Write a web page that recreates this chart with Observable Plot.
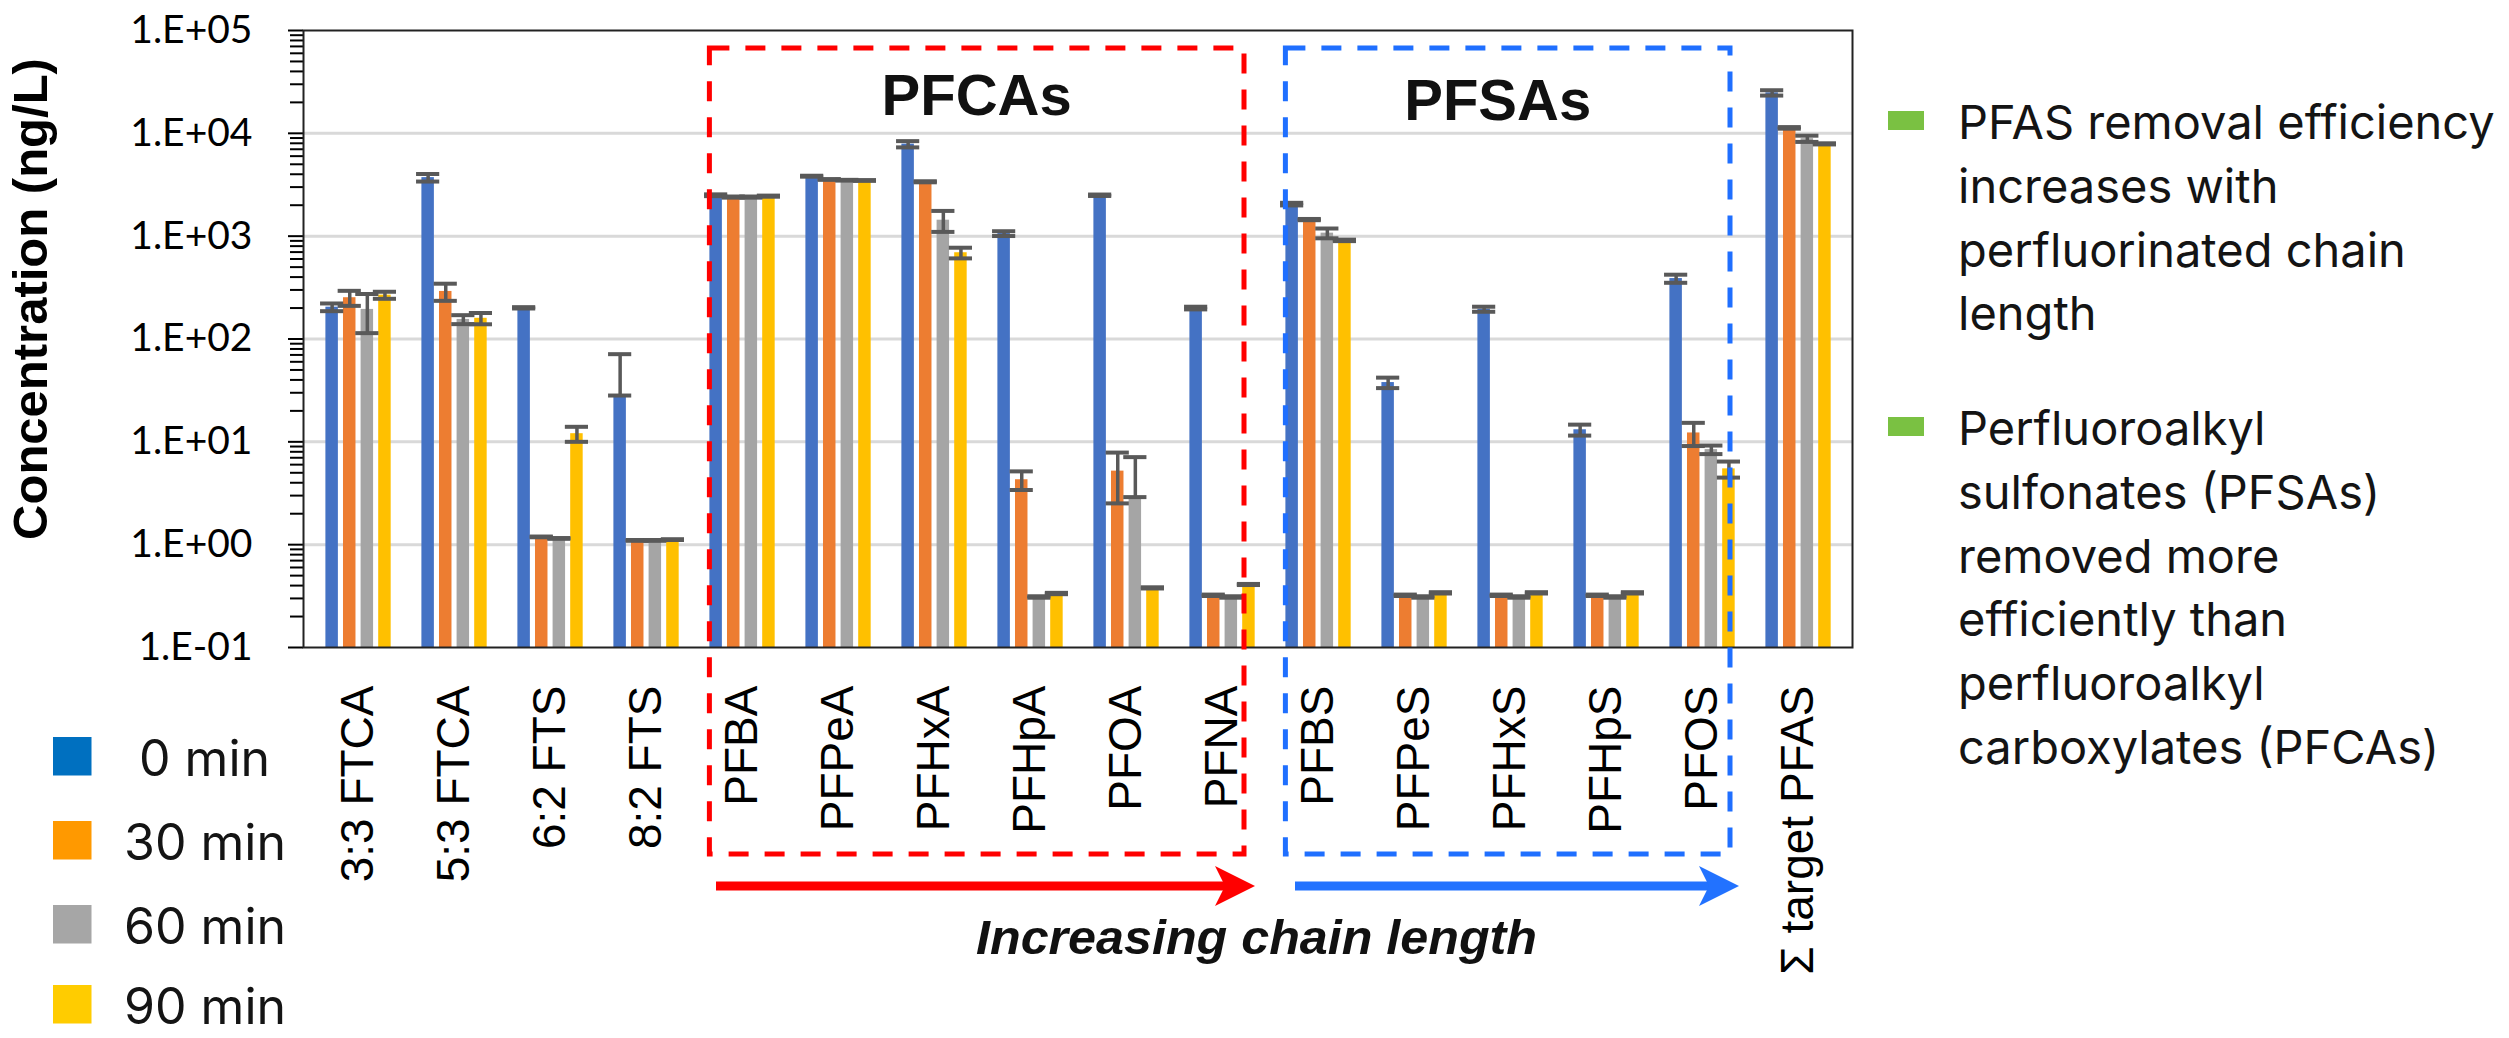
<!DOCTYPE html>
<html><head><meta charset="utf-8">
<script src="https://cdn.jsdelivr.net/npm/d3@7"></script>
<script src="https://cdn.jsdelivr.net/npm/@observablehq/plot@0.6"></script>
<style>
html,body{margin:0;padding:0;background:#fff;}
#wrap{position:relative;width:2509px;height:1038px;overflow:hidden;background:#fff;}
</style></head><body><div id="wrap"></div>
<script>
// ---------- data ----------
const categories = ["3:3 FTCA","5:3 FTCA","6:2 FTS","8:2 FTS","PFBA","PFPeA","PFHxA","PFHpA","PFOA","PFNA","PFBS","PFPeS","PFHxS","PFHpS","PFOS","Σ target PFAS"];
const seriesNames = ["0 min","30 min","60 min","90 min"];
const values0  = [204, 3710, 201, 28.2, 2500, 3830, 7850, 1060, 2500, 200, 2050, 37.7, 195, 13.1, 387, 24770];
const errors0  = [17.5, 312, 3, 43, 50, 40, 550, 57, 40, 6, 60, 4.4, 11, 1.6, 35, 1475];
const values30 = [252, 290, 1.19, 1.1, 2400, 3560, 3380, 4.28, 5.19, 0.322, 1450, 0.322, 0.322, 0.322, 12.2, 11300];
const errors30 = [42, 55, 0.01, 0.01, 30, 30, 40, 0.88, 2.67, 0.005, 20, 0.005, 0.005, 0.005, 3.1, 200];
const values60 = [194, 155, 1.15, 1.1, 2400, 3500, 1430, 0.31, 2.9, 0.31, 1070, 0.31, 0.31, 0.31, 8.4, 8870];
const errors60 = [80, 15.5, 0.01, 0.01, 30, 30, 330, 0.005, 4.2, 0.005, 117, 0.005, 0.005, 0.005, 0.8, 620];
const values90 = [267, 159, 12, 1.12, 2450, 3480, 690, 0.335, 0.38, 0.41, 910, 0.34, 0.34, 0.34, 5.46, 7900];
const errors90 = [21, 20, 2, 0.01, 30, 30, 82, 0.005, 0.005, 0.005, 15, 0.005, 0.005, 0.005, 0.97, 100];
const yMajorTicks = [0.1, 1, 10, 100, 1000, 10000, 100000];
const yTickLabels = ["1.E-01","1.E+00","1.E+01","1.E+02","1.E+03","1.E+04","1.E+05"];
const gridValues = [1, 10, 100, 1000, 10000];
const groupPFCA = ["PFBA","PFNA"];
const groupPFSA = ["PFBS","PFOS"];
const annotation1 = ["PFAS removal efficiency","increases with","perfluorinated chain","length"];
const annotation2 = ["Perfluoroalkyl","sulfonates (PFSAs)","removed more","efficiently than","perfluoroalkyl","carboxylates (PFCAs)"];

// ---------- styles ----------
const barColors = ["#4472C4","#ED7D31","#A5A5A5","#FFC000"];
const legendColors = ["#0070C0","#FF9900","#A6A6A6","#FFCC00"];
const W = 2509, H = 1038;
const L = 303, R = 1852, T = 30, B = 647;
const bw = (R - L) / categories.length;
const groupOff = bw * 0.159, barStep = 17.6, barW = 13.3, capW = 24;

const allValues = [values0, values30, values60, values90];
const allErrors = [errors0, errors30, errors60, errors90];
const rows = [];
seriesNames.forEach((s, j) => categories.forEach((c, i) => {
  const v = allValues[j][i], e = allErrors[j][i];
  rows.push({cat: c, series: s, si: j, value: v, hi: v + e, lo: v - e > 0 ? v - e : v});
}));

const minorTicks = [];
for (let k = -1; k < 5; k++) for (let m = 2; m <= 9; m++) minorTicks.push(m * Math.pow(10, k));

const marks = [
  Plot.ruleY(gridValues, {stroke: "#D9D9D9", strokeWidth: 3})
];
seriesNames.forEach((s, j) => {
  const d = rows.filter(r => r.si === j);
  const left = groupOff + j * barStep;
  marks.push(Plot.barY(d, {x: "cat", y1: () => 0.1, y2: "value", fill: barColors[j],
    insetLeft: left, insetRight: bw - left - barW}));
});
seriesNames.forEach((s, j) => {
  const d = rows.filter(r => r.si === j);
  const cx = groupOff + j * barStep + barW / 2;
  marks.push(Plot.ruleX(d, {x: "cat", y1: "lo", y2: "hi", stroke: "#595959", strokeWidth: 3.5, dx: cx - bw / 2}));
  const capL = cx - capW / 2;
  marks.push(Plot.tickY(d, {x: "cat", y: "hi", stroke: "#595959", strokeWidth: 4, insetLeft: capL, insetRight: bw - capL - capW}));
  marks.push(Plot.tickY(d, {x: "cat", y: "lo", stroke: "#595959", strokeWidth: 4, insetLeft: capL, insetRight: bw - capL - capW}));
});
marks.push(
  Plot.tickY(minorTicks, {y: d => d, stroke: "#000", strokeWidth: 2, dx: -13, insetRight: (R - L) - 13}),
  Plot.tickY(yMajorTicks, {y: d => d, stroke: "#000", strokeWidth: 2, dx: -15, insetRight: (R - L) - 15}),
  Plot.frame({stroke: "#222", strokeWidth: 2}),
  Plot.text(yMajorTicks, {y: d => d, text: (d, i) => yTickLabels[i], frameAnchor: "left", textAnchor: "end", dx: -51,
    fontSize: 39, fontFamily: "Lato", fill: "#000"}),
  Plot.text(categories, {x: d => d, text: d => d, frameAnchor: "bottom", dy: 38, rotate: -90, textAnchor: "end",
    lineAnchor: "middle", fontSize: 46, fontFamily: "Liberation Sans", fill: "#000"})
);

const chart = Plot.plot({
  width: W, height: H,
  marginLeft: L, marginRight: W - R, marginTop: T, marginBottom: H - B,
  style: {background: "#fff", fontFamily: "Liberation Sans", overflow: "visible"},
  x: {domain: categories, padding: 0, axis: null},
  y: {type: "log", domain: [0.1, 100000], axis: null},
  marks
});
document.getElementById("wrap").appendChild(chart);

// ---------- annotations ----------
const svg = d3.select(chart);
const xs = chart.scale("x");
const g = svg.append("g").attr("text-anchor", "start");

function box(a, b, leftOff, rightOff, color) {
  const x0 = xs.apply(a) + leftOff, x1 = xs.apply(b) + rightOff;
  g.append("rect").attr("x", x0).attr("y", 48).attr("width", x1 - x0).attr("height", 854 - 48)
    .attr("fill", "none").attr("stroke", color).attr("stroke-width", 5).attr("stroke-dasharray", "20 16");
  return [x0, x1];
}
const [r0, r1] = box(groupPFCA[0], groupPFCA[1], groupOff, 70, "#FF0000");
const [b0, b1] = box(groupPFSA[0], groupPFSA[1], groupOff, 76, "#1F6FFF");

g.append("text").attr("x", (r0 + r1) / 2).attr("y", 115).attr("text-anchor", "middle")
  .attr("font-family", "Liberation Sans").attr("font-weight", "bold").attr("font-size", 58)
  .attr("fill", "#111").text("PFCAs");
g.append("text").attr("x", (b0 + b1) / 2 - 10).attr("y", 120).attr("text-anchor", "middle")
  .attr("font-family", "Liberation Sans").attr("font-weight", "bold").attr("font-size", 58)
  .attr("fill", "#111").text("PFSAs");

function arrow(x0, x1, y, color) {
  g.append("line").attr("x1", x0).attr("x2", x1 - 30).attr("y1", y).attr("y2", y)
    .attr("stroke", color).attr("stroke-width", 9);
  g.append("polygon").attr("points", `${x1-40},${y-20} ${x1},${y} ${x1-40},${y+20} ${x1-30},${y}`)
    .attr("fill", color);
}
arrow(716, 1255, 886, "#FF0000");
arrow(1295, 1739, 886, "#2272FF");

g.append("text").attr("x", 976).attr("y", 954).attr("text-anchor", "start").attr("font-family", "Liberation Sans")
  .attr("font-weight", "bold").attr("font-style", "italic").attr("font-size", 48)
  .attr("textLength", 561).attr("lengthAdjust", "spacingAndGlyphs").attr("fill", "#111")
  .text("Increasing chain length");

g.append("text").attr("transform", "translate(47,299) rotate(-90)").attr("text-anchor", "middle")
  .attr("font-family", "Liberation Sans").attr("font-weight", "bold").attr("font-size", 49)
  .attr("fill", "#000").text("Concentration (ng/L)");

// legend
const legY = [737, 821, 905, 985];
seriesNames.forEach((s, j) => {
  g.append("rect").attr("x", 53).attr("y", legY[j]).attr("width", 38.5).attr("height", 38.5).attr("fill", legendColors[j]);
  g.append("text").attr("x", j === 0 ? 139 : 124).attr("y", legY[j] + 38.5).attr("text-anchor", "start")
    .attr("font-family", "Inter").attr("font-size", 50).attr("fill", "#141414").text(s);
});

// right annotation
function para(lines, sqY, y0) {
  g.append("rect").attr("x", 1888).attr("y", sqY).attr("width", 36).attr("height", 19).attr("fill", "#7AC142");
  lines.forEach((t, i) => g.append("text").attr("x", 1958).attr("y", y0 + i * 63.8).attr("text-anchor", "start")
    .attr("font-family", "Inter").attr("font-size", 47).attr("fill", "#141414").text(t));
}
para(annotation1, 111, 139);
para(annotation2, 417, 445);
</script></body></html>
